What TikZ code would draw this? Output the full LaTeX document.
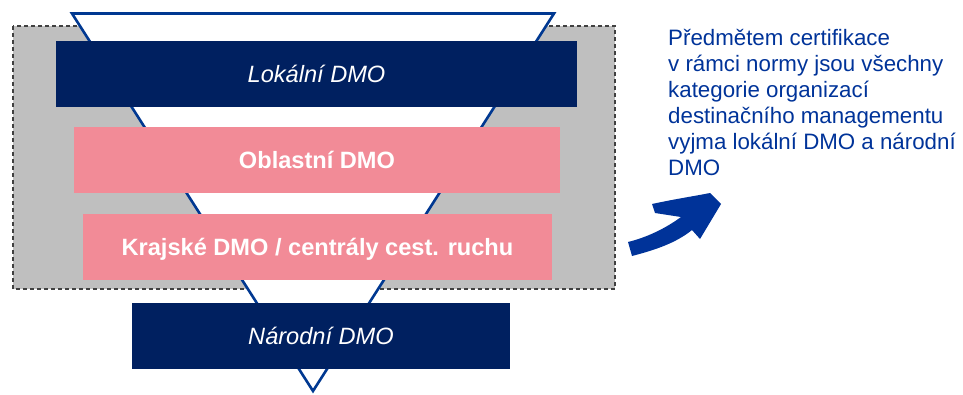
\documentclass[tikz,border=0pt]{standalone}
\usepackage{fontspec}
\setmainfont{Liberation Sans}
\definecolor{navybox}{RGB}{0,32,96}
\definecolor{pinkbox}{RGB}{242,139,151}
\definecolor{graybg}{RGB}{191,191,191}
\definecolor{blueline}{RGB}{0,56,145}
\definecolor{bluetext}{RGB}{0,51,153}
\definecolor{dashgray}{RGB}{64,64,64}
\begin{document}
\begin{tikzpicture}[x=1pt,y=-1pt,
  levelbox/.style={rectangle, inner sep=0pt, minimum height=66pt,
    text=white, text height=16.9pt, text depth=0pt,
    font=\fontsize{23.6}{28}\selectfont},
  navylevel/.style={levelbox, fill=navybox, font=\fontsize{23.6}{28}\selectfont\itshape},
  pinklevel/.style={levelbox, fill=pinkbox, font=\fontsize{23.6}{28}\selectfont\bfseries},
  noteline/.style={anchor=base west, inner sep=0pt, text=bluetext,
    font=\fontsize{22.3}{26}\selectfont}]
\useasboundingbox (0,0) rectangle (963,394);
% grey dashed region
\draw[fill=graybg, draw=dashgray, line width=1.1pt, dash pattern=on 4pt off 3pt]
  (13,26) rectangle (615,289);
% funnel triangle
\coordinate (tl) at (72,13.5);
\coordinate (tr) at (554,13.5);
\coordinate (ap) at (313,391);
\draw[fill=white, draw=blueline, line width=2.6pt, line join=miter] (tl) -- (tr) -- (ap) -- cycle;
% level boxes
\node[navylevel, minimum width=521pt] (lok) at (316.5,74) {Lokální DMO};
\node[pinklevel, minimum width=486pt] (obl) at (317,160) {Oblastní DMO};
\node[pinklevel, minimum width=469pt] (kra) at (317.5,247) {Krajské DMO / centrály cest. ruchu};
\node[navylevel, minimum width=378pt] (nar) at (321,336) {Národní DMO};
% note text
\node[noteline] (n1) at (668,45) {Předmětem certifikace};
\node[noteline] (n2) at (668,71) {v rámci normy jsou všechny};
\node[noteline] (n3) at (668,97) {kategorie organizací};
\node[noteline] (n4) at (668,123) {destinačního managementu};
\node[noteline] (n5) at (668,149) {vyjma lokální DMO a národní};
\node[noteline] (n6) at (668,175) {DMO};
% curved block arrow
\fill[bluetext] (628,242) .. controls (648,237) and (666,228) .. (681,217)
  -- (655,213) -- (652,204)
  .. controls (675,199) and (695,196) .. (710,193)
  -- (721,204) -- (700,239) -- (692,230)
  .. controls (676,243) and (655,250) .. (632,256) -- cycle;
\end{tikzpicture}
\end{document}
